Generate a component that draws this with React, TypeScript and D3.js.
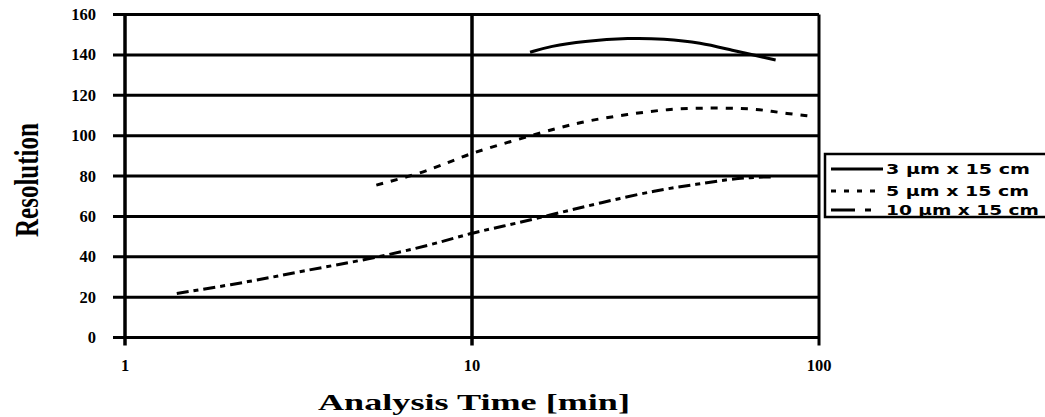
import React from "react";
import * as d3 from "d3";

// Resolution vs. analysis time for three column packings
const series3um: [number, number][] = [
  [14.7, 141.3], [16.8, 144.3], [20.9, 146.8], [28.5, 148.4], [35.5, 148],
  [46, 146], [55, 142.6], [75, 137.5],
];
const series5um: [number, number][] = [
  [5.3, 75.5], [7, 81], [8.5, 86.5], [10, 91.5], [13.5, 98], [17.8, 104],
  [22, 107.7], [28, 110.5], [36, 113], [46, 113.8], [65, 113.5], [76, 111.5], [96, 109.5],
];
const series10um: [number, number][] = [
  [1.41, 21.8], [2.34, 27.9], [3.2, 32.8], [5, 38.6], [7.7, 46], [10, 51.9],
  [12, 54.6], [17, 60.9], [23.4, 66.7], [34, 73], [45, 76], [54, 78.2], [63, 79.3], [74, 79.6],
];
const seriesNames = ["3 µm x 15 cm", "5 µm x 15 cm", "10 µm x 15 cm"];
const xTicks = [1, 10, 100];
const yTicks = [0, 20, 40, 60, 80, 100, 120, 140, 160];

const W = 1045;
const H = 417;

export default function App() {
  const x = d3.scaleLog().domain([1, 100]).range([125, 819]);
  const y = d3.scaleLinear().domain([0, 160]).range([337.5, 14.5]);
  const line = d3
    .line<[number, number]>()
    .x((d) => x(d[0]))
    .y((d) => y(d[1]))
    .curve(d3.curveBasis);

  const serif = "'Liberation Serif', 'DejaVu Serif', serif";
  const sans = "'DejaVu Sans', Verdana, sans-serif";

  const styles = [
    { dash: undefined as string | undefined, width: 3 },
    { dash: "7,8", width: 3 },
    { dash: "12,5,5,5", width: 3 },
  ];
  const data = [series3um, series5um, series10um];

  const legendRows = [169, 191, 210];
  const legendTextLen = [144, 143, 153];

  return (
    <svg
      width={W}
      height={H}
      style={{ position: "absolute", left: 0, top: 0, background: "#fff" }}
    >
      {/* horizontal gridlines with left tick stubs */}
      {yTicks.map((t) => (
        <line
          key={"h" + t}
          x1={113}
          x2={x(100)}
          y1={y(t)}
          y2={y(t)}
          stroke="#000"
          strokeWidth={3}
        />
      ))}
      {/* vertical gridlines at each decade */}
      {xTicks.map((t) => (
        <line
          key={"v" + t}
          x1={x(t)}
          x2={x(t)}
          y1={y(160)}
          y2={y(0) + 8}
          stroke="#000"
          strokeWidth={t === 100 ? 3 : 3.5}
        />
      ))}

      {/* y tick labels */}
      {yTicks.map((t) => (
        <text
          key={"yl" + t}
          x={96}
          y={y(t) + 5.5}
          textAnchor="end"
          fontFamily={serif}
          fontWeight="bold"
          fontSize={16.5}
        >
          {t}
        </text>
      ))}
      {/* x tick labels */}
      {xTicks.map((t) => (
        <text
          key={"xl" + t}
          x={x(t)}
          y={371}
          textAnchor="middle"
          fontFamily={serif}
          fontWeight="bold"
          fontSize={16.5}
        >
          {t}
        </text>
      ))}

      {/* axis titles */}
      <text
        x={318}
        y={410}
        fontFamily={serif}
        fontWeight="bold"
        fontSize={23}
        textLength={312}
        lengthAdjust="spacingAndGlyphs"
      >
        Analysis Time [min]
      </text>
      <text
        transform="translate(38,237) rotate(-90)"
        fontFamily={serif}
        fontWeight="bold"
        fontSize={33}
        textLength={114}
        lengthAdjust="spacingAndGlyphs"
      >
        Resolution
      </text>

      {/* data curves */}
      {data.map((d, i) => (
        <path
          key={"s" + i}
          d={line(d) || ""}
          fill="none"
          stroke="#000"
          strokeWidth={styles[i].width}
          strokeDasharray={styles[i].dash}
        />
      ))}

      {/* legend */}
      <rect x={825} y={154} width={240} height={63} fill="#fff" stroke="#000" strokeWidth={2.5} />
      {seriesNames.map((name, i) => (
        <g key={"lg" + i}>
          <line
            x1={831}
            x2={i === 2 ? 873 : 883}
            y1={legendRows[i]}
            y2={legendRows[i]}
            stroke="#000"
            strokeWidth={3}
            strokeDasharray={i === 0 ? undefined : i === 1 ? "5,8" : "24,10,6,20"}
          />
          <text
            x={886}
            y={legendRows[i] + 5}
            fontFamily={sans}
            fontWeight="bold"
            fontSize={14}
            textLength={legendTextLen[i]}
            lengthAdjust="spacingAndGlyphs"
          >
            {name}
          </text>
        </g>
      ))}
    </svg>
  );
}
